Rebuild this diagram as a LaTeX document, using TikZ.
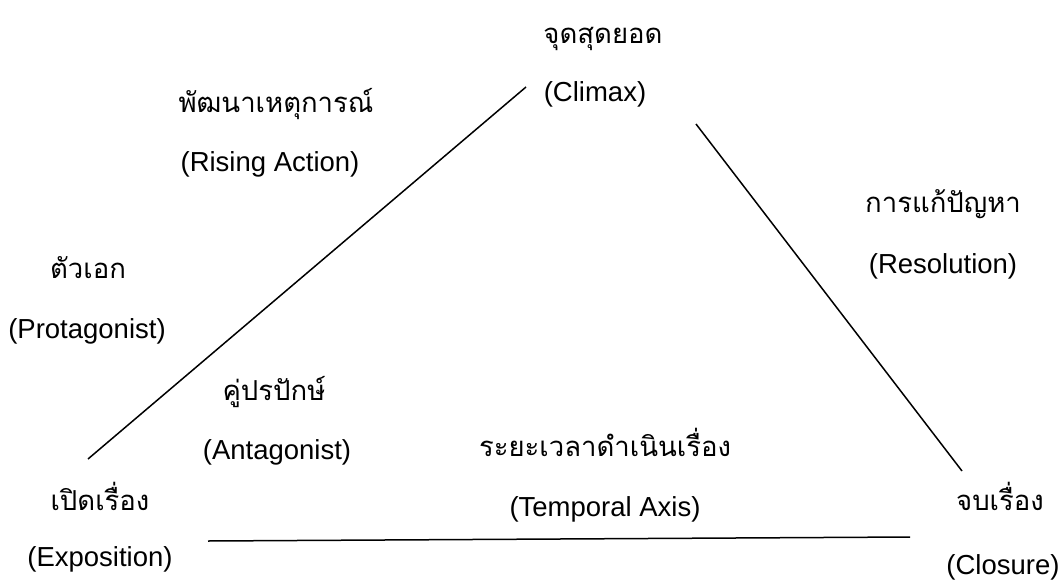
\documentclass[tikz,border=0pt]{standalone}
\usepackage{fontspec}
\setmainfont{Liberation Sans}
\newfontfamily\thaifont[Script=Thai]{Loma}
\begin{document}
\begin{tikzpicture}[x=1pt,y=-1pt,
  lbl/.style={inner sep=0pt,anchor=base,font=\fontsize{27.5}{33}\selectfont},
  thlbl/.style={inner sep=0pt,anchor=base,font=\thaifont\fontsize{27.5}{33}\selectfont},
  plotline/.style={line width=1.5pt,black}]
\useasboundingbox (0,0) rectangle (1060,581);
% Thai labels
\node[thlbl] (climaxth) at (603,43) {จุดสุดยอด};
\node[thlbl] (risingth) at (276,112) {พัฒนาเหตุการณ์};
\node[thlbl] (resolth) at (943,212) {การแก้ปัญหา};
\node[thlbl] (protath) at (88,278) {ตัวเอก};
\node[thlbl] (antagth) at (274,400) {คู่ปรปักษ์};
\node[thlbl] (tempth) at (605,456) {ระยะเวลาดำเนินเรื่อง};
\node[thlbl] (expoth) at (100,510) {เปิดเรื่อง};
\node[thlbl] (closth) at (1000,510) {จบเรื่อง};
% English labels
\node[lbl] (climaxen) at (595,101) {(Climax)};
\node[lbl] (risingen) at (270,171) {(Rising Action)};
\node[lbl] (resolen) at (943,273) {(Resolution)};
\node[lbl] (protaen) at (87,338) {(Protagonist)};
\node[lbl] (antagen) at (277,459) {(Antagonist)};
\node[lbl] (tempen) at (605,516) {(Temporal Axis)};
\node[lbl] (expoen) at (100,566) {(Exposition)};
\node[lbl] (closen) at (1003,574) {(Closure)};
% line end points
\coordinate (riseA) at (88,459);
\coordinate (riseB) at (526,87);
\coordinate (fallA) at (696,124);
\coordinate (fallB) at (962,471);
\coordinate (timeA) at (208,541);
\coordinate (timeB) at (910,537);
\draw[plotline] (riseA) -- (riseB);
\draw[plotline] (fallA) -- (fallB);
\draw[plotline] (timeA) -- (timeB);
\end{tikzpicture}
\end{document}
